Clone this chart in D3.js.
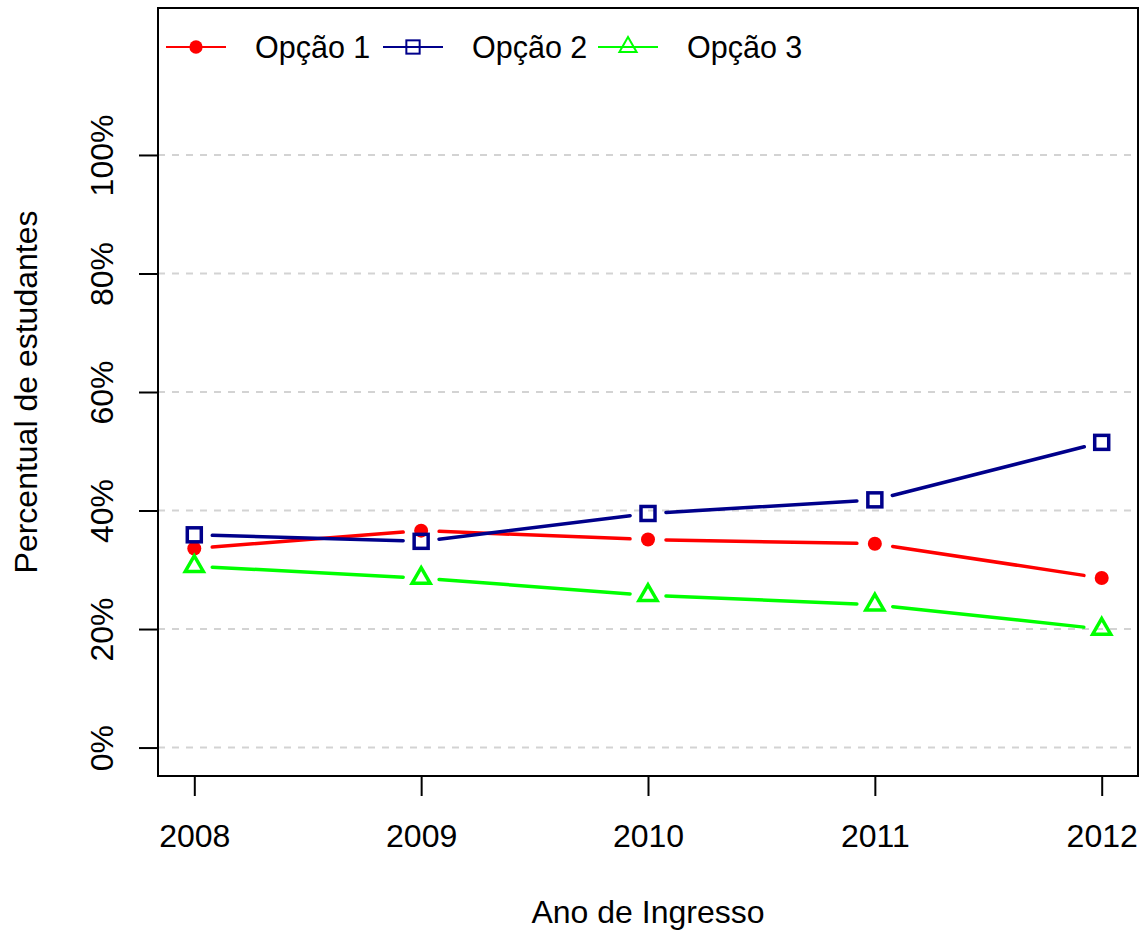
<!DOCTYPE html>
<html>
<head>
<meta charset="utf-8">
<script src="https://cdn.jsdelivr.net/npm/d3@7"></script>
<style>
  body { margin: 0; background: #fff; }
  text { font-family: "Liberation Sans", Arial, Helvetica, sans-serif; fill: #000; }
</style>
</head>
<body>
<div id="chart"></div>
<script>
const years = [2008, 2009, 2010, 2011, 2012];
const opcao1 = [33.6, 36.6, 35.1, 34.4, 28.6];
const opcao2 = [35.9, 34.8, 39.5, 41.8, 51.5];
const opcao3 = [30.6, 28.6, 25.7, 24.1, 20.0];
const yTicks = [0, 20, 40, 60, 80, 100];
const seriesNames = ['Opção 1', 'Opção 2', 'Opção 3'];

const width = 1144;
const height = 933;
// plot region, like R's par("usr") with 4% padding
const plotLeft = 158, plotRight = 1138, plotTop = 8, plotBottom = 776;

const series = [
  { name: seriesNames[0], values: opcao1, color: '#ff0000', shape: 'circle' },
  { name: seriesNames[1], values: opcao2, color: '#00008b', shape: 'square' },
  { name: seriesNames[2], values: opcao3, color: '#00ff00', shape: 'triangle' }
];

const x = d3.scaleLinear()
  .domain([2008 - 0.16, 2012 + 0.16])
  .range([plotLeft, plotRight]);

const y = d3.scaleLinear()
  .domain([-4.8, 124.8])
  .range([plotBottom, plotTop]);

const svg = d3.select('#chart')
  .append('svg')
  .attr('width', width)
  .attr('height', height);

// grid lines
svg.append('g')
  .selectAll('line')
  .data(yTicks)
  .enter().append('line')
    .attr('x1', plotLeft)
    .attr('x2', plotRight)
    .attr('y1', d => y(d))
    .attr('y2', d => y(d))
    .style('stroke', '#d3d3d3')
    .style('stroke-width', 2)
    .style('stroke-dasharray', '7,7');

// axes
const xAxis = svg.append('g')
  .attr('transform', `translate(0,${plotBottom})`)
  .call(d3.axisBottom(x).tickValues(years).tickFormat(d3.format('d')).tickSize(20).tickPadding(12));

const yAxis = svg.append('g')
  .attr('transform', `translate(${plotLeft},0)`)
  .call(d3.axisLeft(y).tickValues(yTicks).tickFormat(d => d + '%').tickSize(19));

[xAxis, yAxis].forEach(g => {
  g.select('.domain').remove();
  g.selectAll('line').style('stroke', '#000').style('stroke-width', 2);
  g.selectAll('text')
    .style('font-size', '32px')
    .style('font-family', '"Liberation Sans", Arial, sans-serif')
    .style('fill', '#000');
});

xAxis.selectAll('text')
  .attr('y', 71)
  .attr('dy', null);

yAxis.selectAll('text')
  .attr('x', null)
  .attr('dy', null)
  .attr('text-anchor', 'middle')
  .attr('transform', 'translate(-45,0) rotate(-90)');

// box
svg.append('rect')
  .attr('x', plotLeft)
  .attr('y', plotTop)
  .attr('width', plotRight - plotLeft)
  .attr('height', plotBottom - plotTop)
  .style('fill', 'none')
  .style('stroke', '#000')
  .style('stroke-width', 2);

// axis titles
svg.append('text')
  .attr('x', (plotLeft + plotRight) / 2)
  .attr('y', 923)
  .attr('text-anchor', 'middle')
  .style('font-size', '32px')
  .text('Ano de Ingresso');

svg.append('text')
  .attr('transform', `translate(37,${(plotTop + plotBottom) / 2}) rotate(-90)`)
  .attr('text-anchor', 'middle')
  .style('font-size', '32px')
  .text('Percentual de estudantes');

// marker drawing
function drawMarker(g, shape, color, cx, cy, sw, scale) {
  if (shape === 'circle') {
    g.append('circle')
      .attr('cx', cx).attr('cy', cy).attr('r', 7 * scale)
      .style('fill', color);
  } else if (shape === 'square') {
    const s = 7 * scale;
    g.append('rect')
      .attr('x', cx - s).attr('y', cy - s)
      .attr('width', 2 * s).attr('height', 2 * s)
      .style('fill', 'none').style('stroke', color).style('stroke-width', sw);
  } else {
    const s = 6.7 * scale;
    const pts = [[cx, cy - 1.555 * s], [cx + 1.347 * s, cy + 0.778 * s], [cx - 1.347 * s, cy + 0.778 * s]];
    g.append('polygon')
      .attr('points', pts.map(p => p.join(',')).join(' '))
      .style('fill', 'none').style('stroke', color).style('stroke-width', sw)
      .style('stroke-linejoin', 'miter');
  }
}

// series: type "b" lines with gaps around points
const gap = 18;
series.forEach(s => {
  const g = svg.append('g');
  const pts = years.map((yr, i) => [x(yr), y(s.values[i])]);
  for (let i = 0; i < pts.length - 1; i++) {
    const [x0, y0] = pts[i];
    const [x1, y1] = pts[i + 1];
    const dx = x1 - x0, dy = y1 - y0;
    const l = Math.sqrt(dx * dx + dy * dy);
    const ux = dx / l, uy = dy / l;
    g.append('line')
      .attr('x1', x0 + ux * gap).attr('y1', y0 + uy * gap)
      .attr('x2', x1 - ux * gap).attr('y2', y1 - uy * gap)
      .style('stroke', s.color)
      .style('stroke-width', 3.5)
      .style('stroke-linecap', 'round');
  }
  pts.forEach(p => drawMarker(g, s.shape, s.color, p[0], p[1], 3.5, 1));
});

// legend
const legendY = 47;
const legendX = [166, 383, 598];
series.forEach((s, i) => {
  const g = svg.append('g');
  const lx = legendX[i];
  g.append('line')
    .attr('x1', lx).attr('x2', lx + 60)
    .attr('y1', legendY).attr('y2', legendY)
    .style('stroke', s.color).style('stroke-width', 2);
  drawMarker(g, s.shape, s.color, lx + 30, legendY, 2, 0.95);
  g.append('text')
    .attr('x', lx + 89)
    .attr('y', legendY + 11)
    .style('font-size', '30.5px')
    .text(s.name);
});
</script>
</body>
</html>
